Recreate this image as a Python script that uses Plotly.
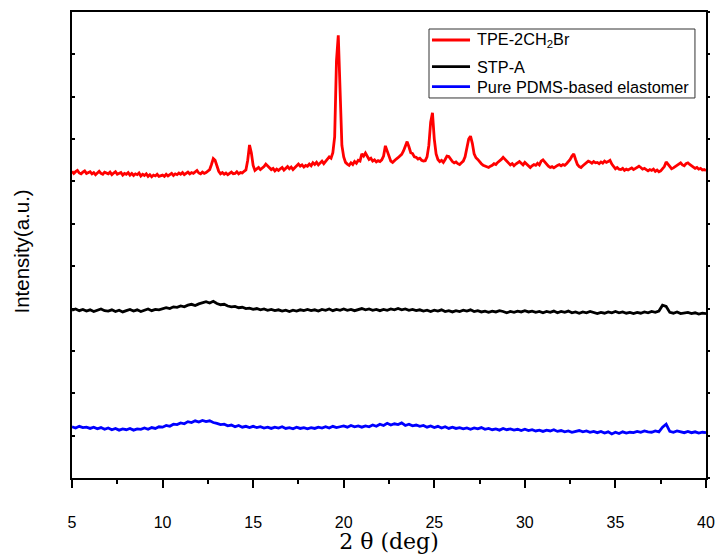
import numpy as np
import plotly.graph_objects as go

# 2-theta sampling grids (degrees)
two_theta_fine = np.round(np.arange(5.0, 40.0001, 0.1), 1)    # 351 points
two_theta_coarse = np.round(np.arange(5.0, 40.0001, 0.2), 1)  # 176 points

# TPE-2CH2Br intensity (a.u.), one row per degree, 0.1 deg step
tpe_2ch2br = [
    724, 719, 723, 726, 720, 718, 722, 725, 719, 721,   # 5
    723, 718, 721, 716, 720, 724, 719, 717, 722, 720,   # 6
    718, 722, 716, 720, 723, 717, 719, 721, 715, 719,   # 7
    717, 721, 715, 719, 714, 718, 716, 720, 713, 717,   # 8
    714, 718, 712, 716, 711, 715, 713, 717, 712, 714,   # 9
    715, 712, 717, 713, 716, 719, 714, 718, 716, 720,   # 10
    717, 721, 716, 719, 722, 718, 721, 719, 723, 726,   # 11
    720, 718, 722, 719, 721, 724, 728, 740, 754, 750,   # 12
    735, 724, 718, 721, 717, 720, 716, 719, 722, 718,   # 13
    719, 723, 718, 721, 720, 724, 727, 750, 786, 768,   # 14
    738, 726, 729, 733, 728, 731, 735, 741, 737, 732,   # 15
    728, 731, 725, 729, 726, 730, 733, 727, 731, 735,   # 16
    730, 734, 728, 733, 737, 741, 736, 739, 734, 738,   # 17
    736, 741, 737, 744, 740, 745, 739, 743, 748, 742,   # 18
    748, 752, 758, 755, 768, 805, 985, 1045, 905, 785,  # 19
    758, 745, 741, 738, 744, 740, 747, 743, 750, 748,   # 20
    765, 760, 767, 758, 752, 755, 748, 751, 746, 749,   # 21
    747, 751, 760, 784, 770, 757, 748, 745, 750, 753,   # 22
    756, 759, 764, 772, 785, 794, 782, 768, 766, 758,   # 23
    757, 753, 755, 750, 748, 749, 758, 785, 840, 862,   # 24
    800, 765, 752, 747, 750, 745, 752, 760, 759, 752,   # 25
    747, 744, 746, 742, 740, 744, 748, 758, 780, 800,   # 26
    807, 790, 765, 756, 752, 746, 742, 738, 736, 735,   # 27
    733, 736, 738, 742, 740, 745, 748, 752, 757, 753,   # 28
    748, 745, 739, 742, 737, 741, 744, 747, 743, 739,   # 29
    745, 741, 736, 733, 737, 740, 738, 743, 739, 748,   # 30
    751, 745, 740, 736, 733, 735, 732, 736, 738, 740,   # 31
    737, 740, 738, 742, 746, 752, 760, 765, 752, 740,   # 32
    735, 733, 737, 740, 744, 748, 746, 743, 747, 744,   # 33
    745, 742, 746, 743, 748, 745, 747, 750, 741, 734,   # 34
    730, 733, 729, 728, 731, 726, 729, 727, 730, 732,   # 35
    728, 731, 734, 736, 733, 729, 731, 727, 725, 728,   # 36
    726, 729, 724, 727, 723, 725, 729, 735, 746, 740,   # 37
    733, 730, 732, 735, 738, 741, 744, 739, 737, 742,   # 38
    744, 740, 737, 734, 731, 733, 729, 731, 727, 728,   # 39
    726,                                                # 40
]

# STP-A intensity (a.u.), 0.2 deg step
stp_a = [
    396, 399, 395, 398, 394,   # 5
    397, 393, 396, 399, 395,   # 6
    394, 397, 393, 396, 392,   # 7
    395, 398, 394, 397, 393,   # 8
    396, 399, 395, 398, 397,   # 9
    399, 402, 400, 404, 403,   # 10
    406, 404, 408, 410, 407,   # 11
    411, 414, 416, 413, 417,   # 12
    412, 409, 410, 406, 404,   # 13
    405, 402, 403, 400, 401,   # 14
    398, 400, 397, 399, 396,   # 15
    398, 395, 397, 394, 396,   # 16
    393, 396, 394, 397, 395,   # 17
    398, 395, 397, 394, 398,   # 18
    396, 399, 395, 398, 396,   # 19
    399, 396, 398, 395, 397,   # 20
    400, 397, 399, 396, 398,   # 21
    395, 398, 396, 399, 397,   # 22
    400, 397, 399, 396, 398,   # 23
    395, 397, 394, 396, 393,   # 24
    396, 394, 397, 393, 395,   # 25
    392, 395, 393, 396, 394,   # 26
    397, 393, 395, 392, 394,   # 27
    391, 394, 392, 395, 393,   # 28
    390, 393, 391, 394, 392,   # 29
    395, 392, 394, 391, 393,   # 30
    390, 393, 391, 394, 390,   # 31
    393, 391, 394, 390, 392,   # 32
    389, 392, 390, 393, 391,   # 33
    388, 391, 389, 392, 390,   # 34
    393, 390, 392, 389, 391,   # 35
    388, 391, 389, 392, 390,   # 36
    393, 391, 394, 408, 405,   # 37
    391, 389, 392, 388, 390,   # 38
    391, 388, 390, 387, 389,   # 39
    388,                       # 40
]

# Pure PDMS-based elastomer intensity (a.u.), 0.2 deg step
pure_pdms = [
    121, 118, 122, 119, 120,   # 5
    117, 120, 116, 119, 115,   # 6
    118, 114, 117, 113, 116,   # 7
    114, 117, 113, 116, 115,   # 8
    118, 115, 119, 117, 121,   # 9
    120, 124, 122, 127, 126,   # 10
    130, 128, 133, 131, 135,   # 11
    132, 136, 133, 135, 131,   # 12
    129, 126, 127, 123, 125,   # 13
    121, 124, 120, 122, 119,   # 14
    122, 119, 121, 118, 120,   # 15
    117, 120, 118, 121, 117,   # 16
    119, 116, 120, 117, 119,   # 17
    116, 119, 117, 120, 118,   # 18
    121, 118, 122, 119, 121,   # 19
    123, 120, 124, 121, 123,   # 20
    120, 123, 121, 125, 122,   # 21
    127, 124, 129, 125, 128,   # 22
    126, 130, 124, 127, 123,   # 23
    125, 122, 124, 120, 123,   # 24
    119, 122, 118, 121, 117,   # 25
    120, 117, 119, 116, 118,   # 26
    115, 118, 116, 119, 115,   # 27
    117, 114, 116, 113, 117,   # 28
    114, 116, 113, 115, 112,   # 29
    115, 112, 114, 111, 113,   # 30
    110, 113, 111, 114, 110,   # 31
    112, 109, 111, 108, 110,   # 32
    112, 109, 111, 108, 110,   # 33
    107, 110, 106, 109, 104,   # 34
    108, 105, 109, 106, 108,   # 35
    107, 110, 108, 111, 109,   # 36
    108, 111, 109, 120, 127,   # 37
    110, 108, 111, 109, 107,   # 38
    110, 107, 109, 106, 108,   # 39
    107,                       # 40
]

series_names = ["TPE-2CH<sub>2</sub>Br", "STP-A", "Pure PDMS-based elastomer"]
series_colors = ["#ff0000", "#000000", "#0000ff"]

x_major = [5, 10, 15, 20, 25, 30, 35, 40]
x_minor = [7.5, 12.5, 17.5, 22.5, 27.5, 32.5, 37.5]

fig = go.Figure()
fig.add_trace(go.Scatter(x=two_theta_fine, y=tpe_2ch2br, mode="lines", showlegend=False,
                         name=series_names[0], line=dict(color=series_colors[0], width=2.8)))
fig.add_trace(go.Scatter(x=two_theta_coarse, y=stp_a, mode="lines", showlegend=False,
                         name=series_names[1], line=dict(color=series_colors[1], width=2.8)))
fig.add_trace(go.Scatter(x=two_theta_coarse, y=pure_pdms, mode="lines", showlegend=False,
                         name=series_names[2], line=dict(color=series_colors[2], width=2.8)))
# empty helper trace so the right-hand tick axis is drawn
fig.add_trace(go.Scatter(x=[None], y=[None], yaxis="y2", showlegend=False,
                         hoverinfo="skip", mode="lines"))

sans = "Liberation Sans, Arial, sans-serif"
axis_font = dict(family=sans, size=16, color="black")

# legend drawn as a boxed key (paper coordinates)
legend_box = dict(x0=0.5631, x1=0.9826, y0=0.8155, y1=0.9635)
legend_rows_y = [0.9399, 0.8826, 0.8397]
legend_line_x = (0.5678, 0.6278)
legend_text_x = 0.6356

shapes = [dict(type="rect", xref="paper", yref="paper", line=dict(color="#333333", width=1),
               fillcolor="white", layer="above", **legend_box)]
annotations = []
for name, color, ry in zip(series_names, series_colors, legend_rows_y):
    shapes.append(dict(type="line", xref="paper", yref="paper", layer="above",
                       x0=legend_line_x[0], x1=legend_line_x[1], y0=ry, y1=ry,
                       line=dict(color=color, width=2.8)))
    annotations.append(dict(text=name, xref="paper", yref="paper", x=legend_text_x, y=ry,
                            xanchor="left", yanchor="middle", showarrow=False,
                            font=dict(family=sans, size=16.3, color="black")))
# y-axis title
annotations.append(dict(text="Intensity(a.u.)", xref="paper", yref="paper",
                        x=-0.0789, y=0.486, xanchor="center", yanchor="middle",
                        textangle=-90, showarrow=False,
                        font=dict(family=sans, size=20.5, color="black")))

fig.update_layout(
    width=718, height=554,
    margin=dict(l=72, r=12, t=12, b=76, autoexpand=False),
    paper_bgcolor="white", plot_bgcolor="white",
    font=axis_font,
    showlegend=False,
    shapes=shapes,
    annotations=annotations,
    xaxis=dict(
        range=[5, 40], tickvals=x_major,
        ticks="outside", ticklen=8, tickwidth=1.5, tickcolor="black",
        minor=dict(tickvals=x_minor,
                   ticks="outside", ticklen=4, tickwidth=1.5, tickcolor="black"),
        showline=True, linecolor="black", linewidth=2, mirror=True,
        showgrid=False, zeroline=False,
        tickfont=axis_font, ticklabelstandoff=21,
        title=dict(text="2 θ (deg)", standoff=2,
                   font=dict(family="DejaVu Serif, Liberation Serif, serif", size=22, color="black")),
    ),
    yaxis=dict(
        range=[0, 1100], dtick=100, tick0=0,
        ticks="inside", ticklen=3, tickwidth=1.5, tickcolor="black",
        showticklabels=False,
        showline=True, linecolor="black", linewidth=2, mirror=True,
        showgrid=False, zeroline=False,
    ),
    yaxis2=dict(
        overlaying="y", side="right", anchor="x",
        range=[0, 1100], dtick=100, tick0=0,
        ticks="outside", ticklen=3, tickwidth=1.5, tickcolor="black",
        showticklabels=False, showline=False, showgrid=False, zeroline=False,
    ),
)

fig.write_html(
    "out.html",
    config={"displayModeBar": False},
    post_script="document.body.style.margin='0px';document.body.style.overflow='hidden';",
)
